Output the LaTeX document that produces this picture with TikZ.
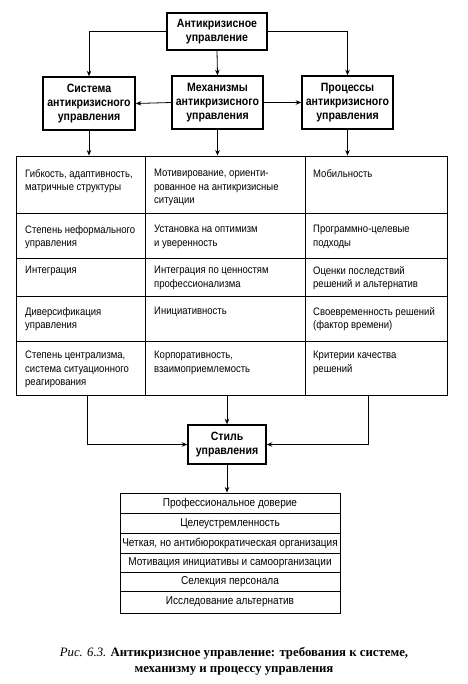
\documentclass[tikz,border=0pt]{standalone}
\usepackage{fontspec}
\setmainfont{Liberation Serif}
\setsansfont[FakeStretch=0.88]{Liberation Sans}
\usetikzlibrary{arrows.meta}
\tikzset{
  hbox/.style={draw, line width=1.5pt, align=center, inner sep=0pt,
    font=\sffamily\bfseries\fontsize{12}{13.8}\selectfont},
  frame/.style={draw, line width=0.9pt, inner sep=0pt},
  grid/.style={line width=0.9pt},
  cell/.style={anchor=north west, align=left, inner sep=0pt,
    font=\sffamily\fontsize{10.8}{13.5}\selectfont},
  item/.style={anchor=center, inner sep=0pt,
    font=\sffamily\fontsize{11.4}{13}\selectfont},
  conn/.style={line width=0.8pt},
  arr/.style={conn, -{Stealth[length=5.5pt,width=4.5pt]}},
}
\begin{document}
\begin{tikzpicture}[x=1pt,y=-1pt]
\useasboundingbox[fill=white] (0,0) rectangle (467,684);
% heading boxes
\node[hbox, minimum width=100pt, minimum height=37pt] (top) at (217,31.5) {Антикризисное\\управление};
\node[hbox, minimum width=92pt, minimum height=53pt] (sys) at (89,103.5) {Система\\антикризисного\\управления};
\node[hbox, minimum width=91pt, minimum height=53pt] (mech) at (217.5,102.5) {Механизмы\\антикризисного\\управления};
\node[hbox, minimum width=91pt, minimum height=53pt] (proc) at (347.5,102.5) {Процессы\\антикризисного\\управления};
\draw[arr] (top.west) -| (sys.north);
\draw[arr] (top.east) -| (proc.north);
\draw[arr] (top.south) -- (mech.north);
\draw[arr] (mech.west) -- (sys.east);
\draw[arr] (mech.east) -- (proc.west);
% table
\node[frame, minimum width=431pt, minimum height=239pt] (tab) at (231.5,275.5) {};
\draw[grid] (145,156) -- (145,395);
\draw[grid] (305,156) -- (305,395);
\foreach \yy in {213,258,296,341} \draw[grid] (16,\yy) -- (447,\yy);
\draw[arr] (sys.south) -- (sys.south |- tab.north);
\draw[arr] (mech.south) -- (mech.south |- tab.north);
\draw[arr] (proc.south) -- (proc.south |- tab.north);
% row 1
\node[cell] (c11) at (25,169) {Гибкость, адаптивность,\\матричные структуры};
\node[cell] (c12) at (154,169) {Мотивирование, ориенти-\\рованное на антикризисные\\ситуации};
\node[cell] (c13) at (313,169) {Мобильность};
% row 2
\node[cell] (c21) at (25,225) {Степень неформального\\управления};
\node[cell] (c22) at (154,225) {Установка на оптимизм\\и уверенность};
\node[cell] (c23) at (313,225) {Программно-целевые\\подходы};
% row 3
\node[cell] (c31) at (25,266) {Интеграция};
\node[cell] (c32) at (154,266) {Интеграция по ценностям\\профессионализма};
\node[cell] (c33) at (313,266) {Оценки последствий\\решений и альтернатив};
% row 4
\node[cell] (c41) at (25,307) {Диверсификация\\управления};
\node[cell] (c42) at (154,307) {Инициативность};
\node[cell] (c43) at (313,307) {Своевременность решений\\(фактор времени)};
% row 5
\node[cell] (c51) at (25,351) {Степень централизма,\\система ситуационного\\реагирования};
\node[cell] (c52) at (154,351) {Корпоративность,\\взаимоприемлемость};
\node[cell] (c53) at (313,351) {Критерии качества\\решений};
% style box
\node[hbox, minimum width=78pt, minimum height=39pt] (style) at (227,444.5) {Стиль\\управления};
\coordinate (bl) at (87,395);
\coordinate (br) at (368,395);
\draw[arr] (bl) |- (style.west);
\draw[arr] (br) |- (style.east);
\draw[arr] (style.north |- tab.south) -- (style.north);
% list
\node[frame, minimum width=220pt, minimum height=120pt] (list) at (230,553) {};
\foreach \yy in {513,533,553,572,591} \draw[grid] (120,\yy) -- (340,\yy);
\draw[arr] (style.south) -- (style.south |- list.north);
\node[item] (l1) at (230,503.5) {Профессиональное доверие};
\node[item] (l2) at (230,523.5) {Целеустремленность};
\node[item] (l3) at (230,543.5) {Четкая, но антибюрократическая организация};
\node[item] (l4) at (230,562.5) {Мотивация инициативы и самоорганизации};
\node[item] (l5) at (230,581.5) {Селекция персонала};
\node[item] (l6) at (230,602) {Исследование альтернатив};
% caption
\node[align=center, inner sep=0pt, font=\fontsize{12.8}{16}\selectfont] (cap) at (234,661)
 {\textit{Рис. 6.3.} \textbf{Антикризисное управление: требования к системе,}\\\textbf{механизму и процессу управления}};
\end{tikzpicture}
\end{document}
